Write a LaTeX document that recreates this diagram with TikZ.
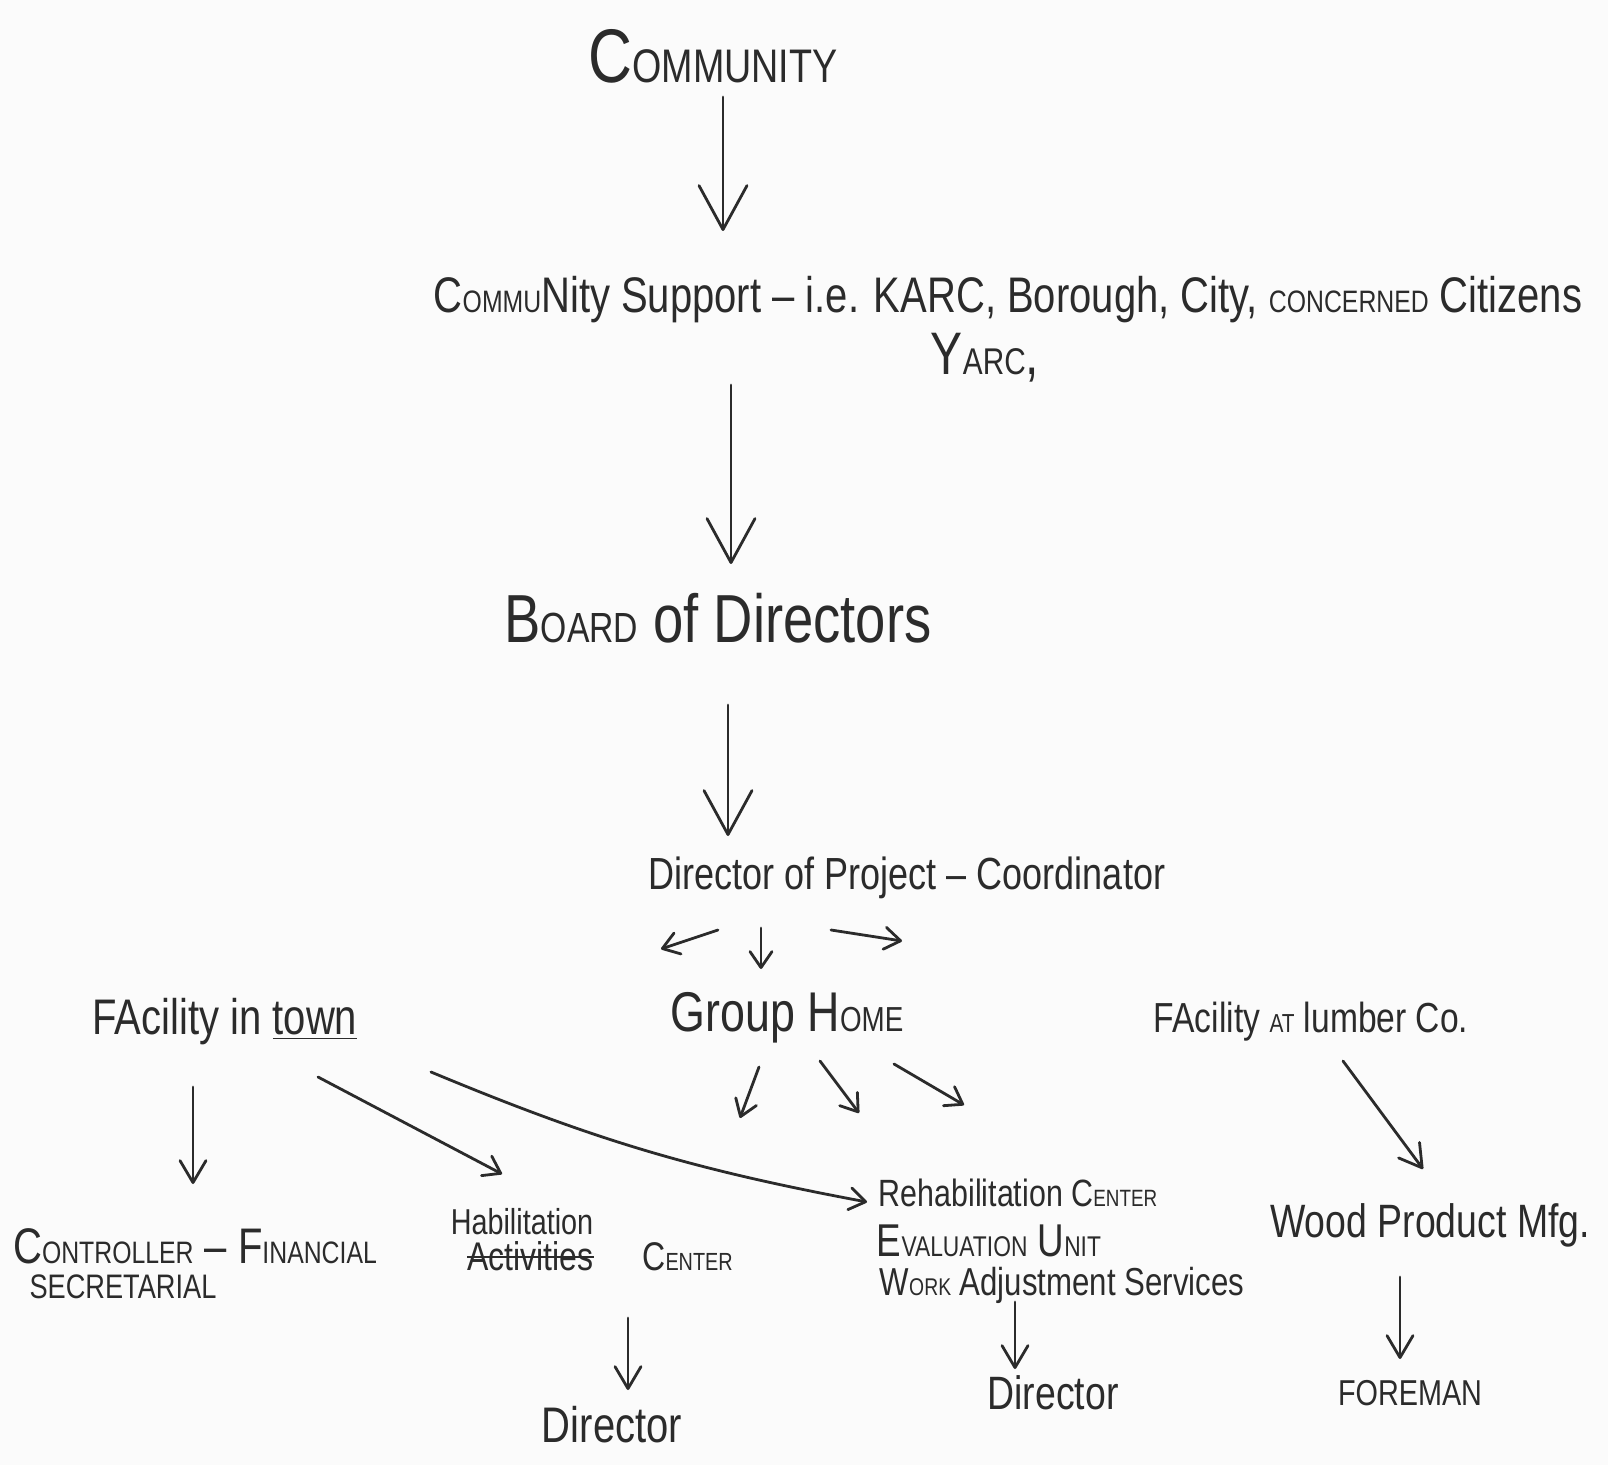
\documentclass[tikz,border=0pt]{standalone}
\usepackage{fontspec}
\setmainfont[FakeStretch=0.8]{Liberation Sans}
\usepackage{graphicx}
\usetikzlibrary{arrows.meta,calc}
\definecolor{ink}{HTML}{2B2B2B}
\definecolor{paper}{HTML}{FBFBFB}
\newcommand\smc[1]{\scalebox{0.62}{#1}}
\newcommand\hfs[1]{\fontsize{#1}{#1}\selectfont}
\newsavebox\mystrikebox
\newcommand\mystrike[1]{\sbox\mystrikebox{#1}\rlap{\rule[0.3em]{\wd\mystrikebox}{0.06em}}\usebox\mystrikebox}
\begin{document}
\begin{tikzpicture}[x=0.5pt,y=-0.5pt,
  hand/.style={inner sep=0pt, text=ink, anchor=center},
  arrbase/.style={draw=ink, line width=1.4pt, line cap=round, line join=round},
  bigarr/.style={arrbase, -{Straight Barb[length=22pt,width=24pt,round]}},
  medarr/.style={arrbase, -{Straight Barb[length=11pt,width=13pt,round]}},
  smallarr/.style={arrbase, -{Straight Barb[length=8pt,width=11pt,round]}}]
\fill[paper] (0,0) rectangle (1608,1465);
\useasboundingbox (0,0) rectangle (1608,1465);

% nodes
\node[hand,font=\hfs{38}] (comm) at (713,56) {C\smc{OMMUNITY}};
\node[hand,font=\hfs{25}] (supp) at (1008,300) {C\smc{OMMU}Nity Support – i.e. KARC, Borough, City, \smc{CONCERNED} Citizens};
\node[hand,font=\hfs{30}] (yarc) at (985,358) {Y\smc{ARC},};
\node[hand,font=\hfs{34}] (board) at (718,618) {B\smc{OARD} of Directors};
\node[hand,font=\hfs{22.5}] (dir) at (907,878) {Director of Project – Coordinator};
\node[hand,font=\hfs{28}] (group) at (787,1018) {Group H\smc{OME}};
\node[hand,font=\hfs{25}] (town) at (225,1022) {FAcility in \underline{town}};
\node[hand,font=\hfs{21}] (lumber) at (1311,1022) {FAcility \smc{AT} lumber Co.};
\node[hand,font=\hfs{25}] (ctrl) at (195,1246) {C\smc{ONTROLLER} – F\smc{INANCIAL}};
\node[hand,font=\hfs{17}] (secr) at (123,1287) {SECRETARIAL};
\node[hand,font=\hfs{18}] (hab) at (522,1222) {Habilitation};
\node[hand,font=\hfs{20}] (act) at (600,1256) {\mystrike{Activities}\quad\ C\smc{ENTER}};
\node[hand,font=\hfs{25}] (hdir) at (612,1425) {Director};
\node[hand,font=\hfs{19}] (rehab) at (1018,1193) {Rehabilitation C\smc{ENTER}};
\node[hand,font=\hfs{23}] (eval) at (989,1241) {E\smc{VALUATION} U\smc{NIT}};
\node[hand,font=\hfs{19.5}] (work) at (1062,1285) {W\smc{ORK} Adjustment Services};
\node[hand,font=\hfs{23.4}] (rdir) at (1053,1393) {Director};
\node[hand,font=\hfs{23.4}] (wood) at (1430,1225) {Wood Product Mfg.};
\node[hand,font=\hfs{18}] (foreman) at (1410,1393) {FOREMAN};

% connectors
\draw[bigarr] ($(comm)+(10,41)$) -- ($(supp)+(-285,-69)$);
\draw[bigarr] ($(supp)+(-277,85)$) -- ($(board)+(13,-54)$);
\draw[bigarr] ($(board)+(10,87)$) -- ($(dir)+(-179,-42)$);
\draw[smallarr] ($(dir)+(-189,52)$) -- ($(town)+(436,-73)$);
\draw[smallarr] ($(dir)+(-146,50)$) -- ($(group)+(-26,-49)$);
\draw[smallarr] ($(dir)+(-76,52)$) -- ($(lumber)+(-409,-81)$);
\draw[smallarr] ($(group)+(-28,49)$) -- ($(hab)+(218,-104)$);
\draw[smallarr] ($(group)+(33,43)$) -- ($(rehab)+(-159,-80)$);
\draw[smallarr] ($(group)+(107,46)$) -- ($(rehab)+(-54,-88)$);
\draw[medarr] ($(town)+(-32,65)$) -- ($(ctrl)+(-2,-62)$);
\draw[smallarr] ($(town)+(93,55)$) -- ($(hab)+(-20,-48)$);
\draw[smallarr] ($(town)+(206,50)$) to[bend right=6] ($(rehab)+(-151,9)$);
\draw[medarr] ($(lumber)+(32,39)$) -- ($(wood)+(-7,-56)$);
\draw[medarr] ($(act)+(28,62)$) -- ($(hdir)+(16,-35)$);
\draw[medarr] ($(work)+(-47,17)$) -- ($(rdir)+(-38,-24)$);
\draw[medarr] ($(wood)+(-30,52)$) -- ($(foreman)+(-10,-34)$);
\end{tikzpicture}
\end{document}
